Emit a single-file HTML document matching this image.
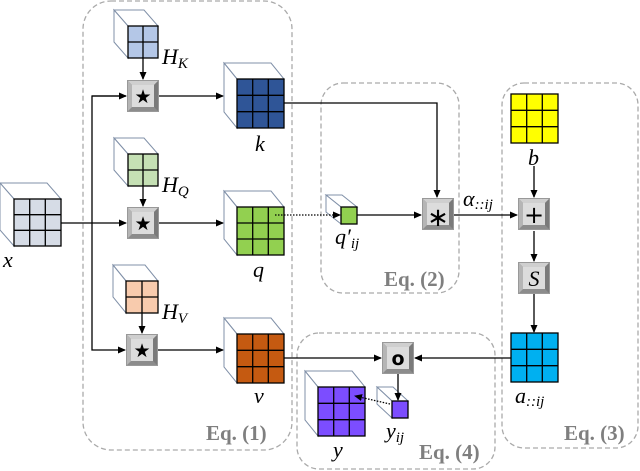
<!DOCTYPE html>
<html><head><meta charset="utf-8"><style>
html,body{margin:0;padding:0;background:#fff;}
svg{display:block;}
.m{font-family:"Liberation Serif",serif;font-style:italic;font-size:22px;fill:#000;}
.s{font-size:15px;}
.eq{font-family:"Liberation Serif",serif;font-weight:bold;font-size:21px;fill:#7f7f7f;}
</style></head><body>
<svg width="640" height="471" viewBox="0 0 640 471" xmlns="http://www.w3.org/2000/svg">
<defs>
<marker id="ar" markerWidth="8" markerHeight="8" refX="7" refY="4" orient="auto" markerUnits="userSpaceOnUse"><path d="M0,0.5 L8,4 L0,7.5 z" fill="#000"/></marker>
<g id="op"><rect x="0" y="0" width="32" height="32" fill="#8c8c8c"/><polygon points="0,0 32,0 27,5 5,5" fill="#cfcfcf"/><polygon points="0,0 5,5 5,27 0,32" fill="#b5b5b5"/><polygon points="32,0 32,32 27,27 27,5" fill="#7a7a7a"/><rect x="5" y="5" width="22" height="22" fill="#dcdcdc"/><rect x="0.5" y="0.5" width="31" height="31" fill="none" stroke="#999"/></g>
</defs>
<g fill="none" stroke="#aaa" stroke-width="1.3" stroke-dasharray="5,3">
<rect x="83" y="1" width="209" height="449" rx="28"/>
<rect x="321" y="83" width="138" height="210" rx="22"/>
<rect x="502" y="83" width="136" height="365" rx="22"/>
<rect x="297" y="333" width="198" height="136" rx="22"/>
</g>
<text class="eq" x="206" y="440">Eq. (1)</text>
<text class="eq" x="384" y="286">Eq. (2)</text>
<text class="eq" x="564" y="440">Eq. (3)</text>
<text class="eq" x="419" y="459">Eq. (4)</text>

<g stroke="#8090a8" stroke-width="1" fill="#fff">
<polygon points="14,199 0,183 47,183 61,199"/><polygon points="14,199 0,183 0,230 14,246"/>
<polygon points="128,26 114,10 144,10 158,26"/><polygon points="128,26 114,10 114,42 128,58"/>
<polygon points="237,79 224,63 271,63 284,79"/><polygon points="237,79 224,63 224,112 237,128"/>
<polygon points="128,154 114,138 144,138 158,154"/><polygon points="128,154 114,138 114,170 128,186"/>
<polygon points="237,207 224,191 271,191 284,207"/><polygon points="237,207 224,191 224,239 237,255"/>
<polygon points="126,281 113,265 145,265 158,281"/><polygon points="126,281 113,265 113,297 126,313"/>
<polygon points="237,334 224,318 271,318 284,334"/><polygon points="237,334 224,318 224,367 237,383"/>
<polygon points="341,207 326,195 342,195 357,207"/><polygon points="341,207 326,195 326,212 341,224"/>
<polygon points="318,387 305,371 352,371 365,387"/><polygon points="318,387 305,371 305,420 318,436"/>
<polygon points="392,401 377,387 393,387 408,401"/><polygon points="392,401 377,387 377,404 392,418"/>
</g>
<g stroke="#000" stroke-width="1.3">
<g fill="#d6dce6"><rect x="14" y="199" width="47" height="47"/><path d="M29.7,199V246M45.3,199V246M14,214.7H61M14,230.3H61" fill="none"/></g>
<g fill="#b4c7e7"><rect x="128" y="26" width="30" height="32"/><path d="M143,26V58M128,42H158" fill="none"/></g>
<g fill="#2f5597"><rect x="237" y="79" width="47" height="49"/><path d="M252.7,79V128M268.3,79V128M237,95.3H284M237,111.7H284" fill="none"/></g>
<g fill="#c5e0b4"><rect x="128" y="154" width="30" height="32"/><path d="M143,154V186M128,170H158" fill="none"/></g>
<g fill="#92d050"><rect x="237" y="207" width="47" height="48"/><path d="M252.7,207V255M268.3,207V255M237,223H284M237,239H284" fill="none"/></g>
<g fill="#f8cbad"><rect x="126" y="281" width="32" height="32"/><path d="M142,281V313M126,297H158" fill="none"/></g>
<g fill="#c55a11"><rect x="237" y="334" width="47" height="49"/><path d="M252.7,334V383M268.3,334V383M237,350.3H284M237,366.7H284" fill="none"/></g>
<g fill="#ffff00"><rect x="511" y="94" width="47" height="49"/><path d="M526.7,94V143M542.3,94V143M511,110.3H558M511,126.7H558" fill="none"/></g>
<g fill="#00b0f0"><rect x="511" y="333" width="47" height="49"/><path d="M526.7,333V382M542.3,333V382M511,349.3H558M511,365.7H558" fill="none"/></g>
<g fill="#7c4dff"><rect x="318" y="387" width="47" height="49"/><path d="M333.7,387V436M349.3,387V436M318,403.3H365M318,419.7H365" fill="none"/></g>
<rect x="341" y="207" width="16" height="17" fill="#92d050"/>
<rect x="392" y="401" width="16" height="17" fill="#7c4dff"/>
</g>

<use href="#op" x="127" y="80"/>
<use href="#op" x="127" y="207"/>
<use href="#op" x="126" y="334"/>
<use href="#op" x="422" y="198"/>
<use href="#op" x="518" y="198"/>
<use href="#op" x="518" y="262"/>
<use href="#op" x="382" y="342"/>
<g font-family="DejaVu Sans,sans-serif" text-anchor="middle" fill="#000">
<text x="143" y="103" font-size="19">★</text>
<text x="143" y="230" font-size="19">★</text>
<text x="142" y="357" font-size="19">★</text>
<text x="438" y="226" font-size="26">∗</text>
<text x="534" y="223" font-size="24">+</text>
<text x="398" y="365" font-size="19" font-weight="bold">o</text>
</g>
<text x="534" y="286" font-family="Liberation Serif,serif" font-style="italic" font-size="22" text-anchor="middle">S</text>

<g stroke="#000" stroke-width="1.3" fill="none">
<line x1="143" y1="58" x2="143" y2="79" marker-end="url(#ar)"/>
<line x1="143" y1="186" x2="143" y2="206" marker-end="url(#ar)"/>
<line x1="142" y1="313" x2="142" y2="333" marker-end="url(#ar)"/>
<line x1="61" y1="223" x2="126" y2="223" marker-end="url(#ar)"/>
<polyline points="126,96 92,96 92,350 125,350" marker-end="url(#ar)"/>
<line x1="92" y1="96" x2="126" y2="96" marker-end="url(#ar)"/>
<line x1="159" y1="96" x2="223" y2="96" marker-end="url(#ar)"/>
<line x1="159" y1="223" x2="223" y2="223" marker-end="url(#ar)"/>
<line x1="158" y1="350" x2="223" y2="350" marker-end="url(#ar)"/>
<polyline points="284,103 437,103 437,197" marker-end="url(#ar)"/>
<line x1="357" y1="215" x2="421" y2="215" marker-end="url(#ar)"/>
<line x1="454" y1="215" x2="517" y2="215" marker-end="url(#ar)"/>
<line x1="534" y1="166" x2="534" y2="197" marker-end="url(#ar)"/>
<line x1="534" y1="231" x2="534" y2="261" marker-end="url(#ar)"/>
<line x1="534" y1="294" x2="534" y2="332" marker-end="url(#ar)"/>
<line x1="284" y1="358" x2="381" y2="358" marker-end="url(#ar)"/>
<line x1="511" y1="358" x2="415" y2="358" marker-end="url(#ar)"/>
<line x1="398" y1="374" x2="398" y2="400" marker-end="url(#ar)"/>
<line x1="275" y1="215" x2="340" y2="215" stroke-dasharray="1.5,1.5" marker-end="url(#ar)"/>
<line x1="390" y1="404" x2="355" y2="396" stroke-dasharray="1.5,1.5" marker-end="url(#ar)"/>
</g>

<text class="m" x="3" y="267">x</text>
<text class="m" x="162" y="64">H<tspan class="s" dy="4">K</tspan></text>
<text class="m" x="162" y="192">H<tspan class="s" dy="4">Q</tspan></text>
<text class="m" x="162" y="319">H<tspan class="s" dy="4">V</tspan></text>
<text class="m" x="255" y="151">k</text>
<text class="m" x="253" y="277">q</text>
<text class="m" x="254" y="403">v</text>
<text class="m" x="335" y="244">q′<tspan class="s" dy="4">ij</tspan></text>
<text class="m" x="463" y="206">α<tspan class="s" dy="3">::ij</tspan></text>
<text class="m" x="528" y="165">b</text>
<text class="m" x="515" y="403">a<tspan class="s" dy="3">::ij</tspan></text>
<text class="m" x="333" y="457">y</text>
<text class="m" x="386" y="438">y<tspan class="s" dy="4">ij</tspan></text>
</svg>
</body></html>
